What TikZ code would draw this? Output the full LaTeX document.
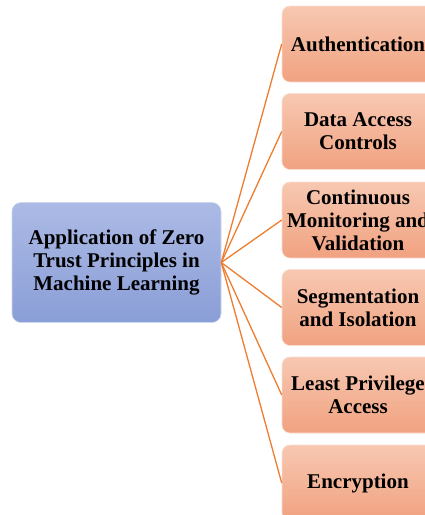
\documentclass[tikz,border=0pt]{standalone}
\usepackage{fontspec}
\setmainfont{Liberation Serif}
\definecolor{blueTop}{RGB}{172,186,229}
\definecolor{blueBot}{RGB}{138,158,215}
\definecolor{orTop}{RGB}{247,200,178}
\definecolor{orBot}{RGB}{241,162,128}
\definecolor{conn}{RGB}{237,125,49}
\begin{document}
\begin{tikzpicture}[x=1pt,y=-1pt,
  txt/.style={font=\fontsize{21}{23}\selectfont\bfseries, align=center, text=black},
  mainbox/.style={txt, rounded corners=9pt, top color=blueTop, bottom color=blueBot, draw=blueTop!60!white, line width=0.6pt, minimum width=209pt, minimum height=120pt, inner sep=0pt},
  leafbox/.style={txt, rounded corners=8pt, top color=orTop, bottom color=orBot, draw=orTop!60!white, line width=0.6pt, minimum width=152pt, minimum height=76pt, inner sep=0pt},
  link/.style={draw=conn, line width=1.3pt}]
\useasboundingbox (0,0) rectangle (425,515);
\clip (0,0) rectangle (425,515);
\node[mainbox] (m) at (116.5,262.5) {Application of Zero\\Trust Principles in\\Machine Learning};
\node[leafbox] (a) at (358,44) {Authentication};
\node[leafbox] (b) at (358,131.5) {Data Access\\Controls};
\node[leafbox] (c) at (358,220) {Continuous\\Monitoring and\\Validation};
\node[leafbox] (d) at (358,307.5) {Segmentation\\and Isolation};
\node[leafbox] (e) at (358,395) {Least Privilege\\Access};
\node[leafbox] (f) at (358,483) {Encryption};
\foreach \t in {a,b,c,d,e,f}{
  \draw[link] (m.east) -- (\t.west);
}
\end{tikzpicture}
\end{document}
